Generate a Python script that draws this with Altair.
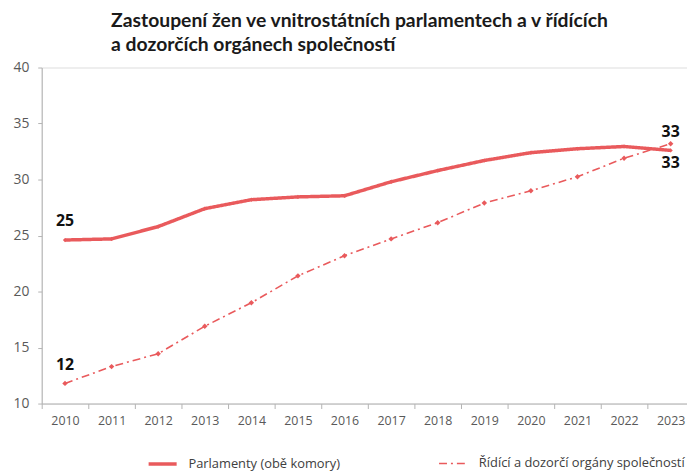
import altair as alt
import pandas as pd

years = list(range(2010, 2024))
series_names = ["Parlamenty (obě komory)", "Řídící a dozorčí orgány společností"]
parlamenty = [24.6, 24.7, 25.8, 27.4, 28.2, 28.45, 28.55, 29.8, 30.8, 31.7, 32.4, 32.75, 32.95, 32.6]
ridici = [11.8, 13.3, 14.45, 16.9, 19.0, 21.4, 23.2, 24.7, 26.15, 27.9, 29.0, 30.25, 31.9, 33.2]
title_lines = ["Zastoupení žen ve vnitrostátních parlamentech a v řídících",
               "a dozorčích orgánech společností"]

rows = []
for s, vals in zip(series_names, [parlamenty, ridici]):
    for y, v in zip(years, vals):
        rows.append({"rok": y, "hodnota": v, "serie": s})
df = pd.DataFrame(rows)

RED = "#e95a5c"
W, H = 651, 339
x_scale = alt.Scale(domain=[2009.5, 2009.5 + W / 47.0], nice=False, zero=False)
y_scale = alt.Scale(domain=[10, 40], nice=False, zero=False)

x_enc = alt.X("rok:Q", scale=x_scale, axis=alt.Axis(
    values=[y - 0.5 for y in years], labelExpr="format(datum.value + 0.5, 'd')",
    labelOffset=23.5, title=None, grid=False, labelOverlap=False, labelFlush=False,
    labelBound=False, tickSize=5, labelPadding=6, labelFontSize=12.5,
    labelFont="Open Sans", labelColor="#595959", domainColor="#b3b3b3",
    tickColor="#b3b3b3"))
y_enc = alt.Y("hodnota:Q", scale=y_scale, axis=alt.Axis(
    values=[10, 15, 20, 25, 30, 35, 40], title=None, grid=False, tickSize=4,
    labelPadding=9, labelFontSize=14, labelFont="Open Sans", labelColor="#595959",
    domainColor="#b3b3b3", tickColor="#b3b3b3"))

legend = alt.Legend(title=None, orient="none", legendX=106, legendY=384,
                    direction="horizontal", columns=2, columnPadding=95,
                    symbolType="stroke", symbolSize=800, labelFont="Open Sans",
                    labelFontSize=13, labelColor="#404040", labelOffset=10,
                    labelLimit=0, symbolStrokeColor=RED, padding=0)

color = alt.Color("serie:N", scale=alt.Scale(domain=series_names, range=[RED, RED]), legend=legend)
dash = alt.StrokeDash("serie:N", scale=alt.Scale(domain=series_names, range=[[1, 0], [8, 4, 2, 4]]), legend=legend)
width = alt.StrokeWidth("serie:N", scale=alt.Scale(domain=series_names, range=[3.5, 1.6]), legend=legend)

base = alt.Chart(df)
lines = base.mark_line().encode(x=x_enc, y=y_enc, color=color, strokeDash=dash, strokeWidth=width)
pts_p = base.transform_filter(alt.datum.serie == series_names[0]).mark_point(
    shape="diamond", filled=True, size=18, opacity=1, color=RED).encode(x=x_enc, y=y_enc)
pts_r = base.transform_filter(alt.datum.serie == series_names[1]).mark_point(
    shape="diamond", filled=True, size=30, opacity=1, color=RED).encode(x=x_enc, y=y_enc)

txt = dict(fontSize=16, fontWeight="bold", font="Open Sans", color="#111111", align="center", baseline="middle")
lab_first = base.transform_filter(alt.datum.rok == years[0]).mark_text(dy=-19, **txt).encode(
    x=x_enc, y=y_enc, text=alt.Text("hodnota:Q", format=".0f"))
lab_last_r = base.transform_filter((alt.datum.rok == years[-1]) & (alt.datum.serie == series_names[1])).mark_text(
    dy=-12, **txt).encode(x=x_enc, y=y_enc, text=alt.Text("hodnota:Q", format=".0f"))
lab_last_p = base.transform_filter((alt.datum.rok == years[-1]) & (alt.datum.serie == series_names[0])).mark_text(
    dy=13, **txt).encode(x=x_enc, y=y_enc, text=alt.Text("hodnota:Q", format=".0f"))

chart = alt.layer(lines, pts_p, pts_r, lab_first, lab_last_r, lab_last_p).properties(
    width=W, height=H,
    autosize=alt.AutoSizeParams(type="none"),
    padding={"left": 34, "top": 58, "right": 0, "bottom": 68},
    title=alt.TitleParams(text=title_lines, anchor="start", dx=70, fontSize=19.5, font="Lato",
                          fontWeight="bold", lineHeight=24, color="#1a1a1a", offset=5, frame="group"),
).configure_view(stroke=None).configure(background="white")

chart.save("out.html", embed_options={"renderer": "svg", "actions": False})
